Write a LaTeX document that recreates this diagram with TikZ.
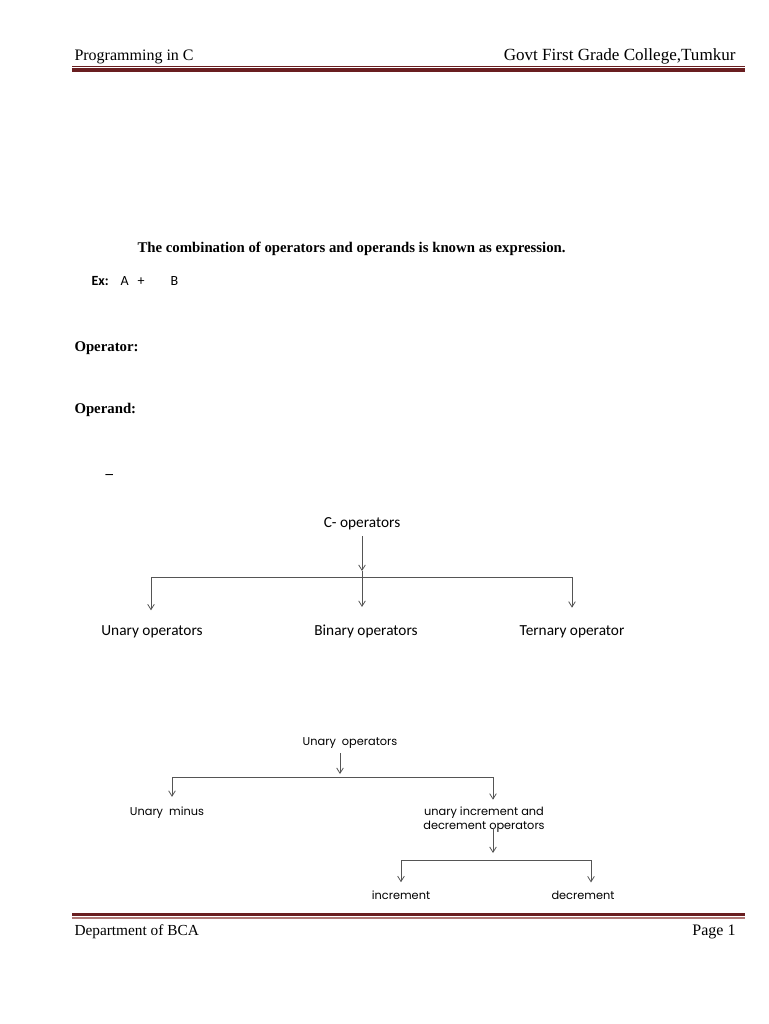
\documentclass[tikz,border=0pt]{standalone}
\usepackage{fontspec}
\setmainfont{Liberation Serif}
\newfontfamily\calib{Carlito}
\newfontfamily\gothic{Poppins}
\usetikzlibrary{arrows.meta}
\definecolor{rulered}{RGB}{105,30,32}
\definecolor{rulepink}{RGB}{175,120,118}
\definecolor{linegray}{RGB}{85,85,85}

\tikzset{every picture/.style={line width=0.75pt},
  txt/.style={inner sep=0.75pt},
  headtxt/.style={txt, font=\fontsize{12}{14}\selectfont},
  bodytxt/.style={txt, font=\fontsize{11.1}{13}\selectfont\bfseries},
  extxt/.style={txt, font=\calib\fontsize{10.5}{13}\selectfont},
  bigtree/.style={txt, anchor=base, font=\calib\fontsize{11.5}{14}\selectfont},
  smalltree/.style={txt, anchor=base, font=\gothic\fontsize{8.5}{10.5}\selectfont},
  branch/.style={draw=linegray, line width=0.6pt},
  tip/.style={branch, -{Straight Barb[length=4pt,width=5pt]}}}

\begin{document}
\begin{tikzpicture}[x=0.75pt,y=0.75pt,yscale=-1,xscale=1]
\useasboundingbox (0,0) rectangle (768,1024);

% header and footer rules
\draw [rulered, line width=0.8pt] (72,66.5) -- (745,66.5) ;
\draw [rulered, line width=2.4pt] (72,70) -- (745,70) ;
\draw [rulered, line width=2.4pt] (72,914.5) -- (745,914.5) ;
\draw [rulepink, line width=1.5pt] (72,917.5) -- (745,917.5) ;

% Text Node
\node [headtxt, anchor=base west] (hdl) at (73,61) {Programming in C};
% Text Node
\node [headtxt, anchor=base east, font=\fontsize{12.8}{14}\selectfont] (hdr) at (737,61) {Govt First Grade College,Tumkur};
% Text Node
\node [headtxt, anchor=base west, font=\fontsize{11.5}{14}\selectfont] (ftl) at (73,935) {Department of BCA};
% Text Node
\node [headtxt, anchor=base east] (ftr) at (737,935) {Page 1};

% Text Node
\node [bodytxt, anchor=base west] (expr) at (136,252) {The combination of operators and operands is known as expression.};
% Text Node
\node [extxt, anchor=base west] (ex) at (90,285) {\bfseries Ex:};
\node [extxt, anchor=base west] (opa) at (119,285) {A};
\node [extxt, anchor=base west] (plus) at (136,285) {+};
\node [extxt, anchor=base west] (opb) at (169,285) {B};
% Text Node
\node [bodytxt, anchor=base west] (optor) at (73,351) {Operator:};
% Text Node
\node [bodytxt, anchor=base west] (opnd) at (73,413) {Operand:};
% Text Node
\node [bodytxt, anchor=base west] (dash) at (104,478) {--};

% C operators tree
\node [bigtree] (cop) at (362,527) {C- operators};
\node [bigtree] (unary) at (152,635) {Unary operators};
\node [bigtree] (binary) at (366,635) {Binary operators};
\node [bigtree] (ternary) at (572,635) {Ternary operator};
\coordinate (cj) at (362,571);
\coordinate (cl) at (151,577);
\coordinate (cr) at (572,577);

\draw [tip] ([yshift=4]cop.south -| cj) -- (cj) ;
\draw [branch] (cl) -- (cr) ;
\draw [tip, shorten >=10] (cl) -- (cl |- unary.north) ;
\draw [tip, shorten >=12] (cj) -- (cj |- binary.north) ;
\draw [tip, shorten >=12] (cr) -- (cr |- ternary.north) ;

% unary operators tree
\node [smalltree] (uops) at (350,745) {Unary\ \ operators};
\node [smalltree] (umin) at (167,815) {Unary\ \ minus};
\node [smalltree, anchor=north, align=center] (uid) at (484,805) {unary increment and\\decrement operators};
\node [smalltree] (inc) at (401,899) {increment};
\node [smalltree] (dec) at (583,899) {decrement};
\coordinate (uj) at (340,774);
\coordinate (ul) at (172,777);
\coordinate (ur) at (493,777);
\coordinate (dj) at (493,853);
\coordinate (dl) at (401,860);
\coordinate (dr) at (591,860);

\draw [tip] ([yshift=3]uops.south -| uj) -- (uj) ;
\draw [branch] (ul) -- (ur) ;
\draw [tip, shorten >=6] (ul) -- (ul |- umin.north) ;
\draw [tip, shorten >=4] (ur) -- (ur |- uid.north) ;
\draw [tip] ([yshift=-4]uid.south -| dj) -- (dj) ;
\draw [branch] (dl) -- (dr) ;
\draw [tip, shorten >=5] (dl) -- (dl |- inc.north) ;
\draw [tip, shorten >=5] (dr) -- (dr |- dec.north) ;

\end{tikzpicture}
\end{document}
